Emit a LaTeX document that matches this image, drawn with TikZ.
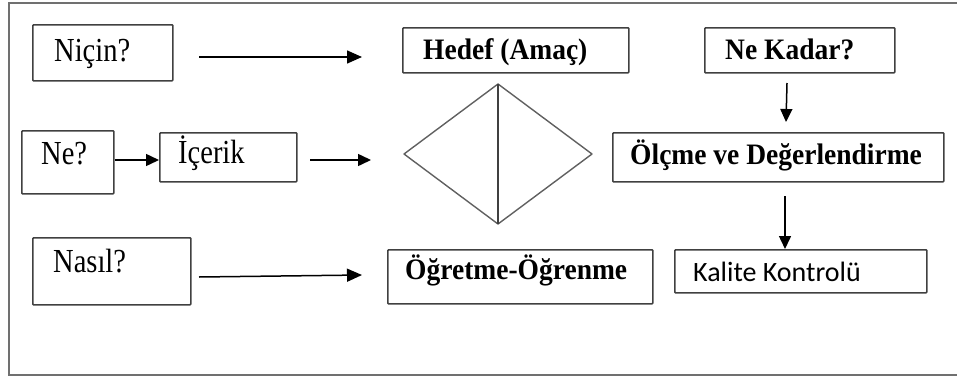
\documentclass[tikz,border=0pt]{standalone}
\usepackage{fontspec}
\usepackage{graphicx}
\setmainfont{Liberation Serif}
\newfontfamily\calib{Carlito}
\usetikzlibrary{arrows.meta}
\definecolor{boxc}{HTML}{404040}
\definecolor{framec}{HTML}{707070}
\definecolor{diac}{HTML}{606060}
\newcommand{\tallq}[1]{\scalebox{1}[1.18]{#1}}
\newcommand{\tallb}[1]{\scalebox{1}[1.08]{#1}}
\tikzset{
  box/.style={draw=boxc, line width=1.6pt, rounded corners=0.8pt, anchor=north west, inner sep=0pt},
  txt/.style={anchor=base west, inner sep=0pt, text=black, font=\fontsize{28.5}{32}\selectfont},
  btxt/.style={anchor=base west, inner sep=0pt, text=black, font=\fontsize{27.5}{31}\selectfont\bfseries},
  ctxt/.style={anchor=base west, inner sep=0pt, text=black, font=\fontsize{28}{32}\selectfont\calib},
  arr/.style={draw=black, line width=1.5pt, -{Triangle[length=15pt,width=13pt]}},
  sarr/.style={draw=black, line width=1.5pt, -{Triangle[length=13pt,width=12pt]}},
  dia/.style={draw=diac, line width=1.4pt, line join=round}
}
\begin{document}
\begin{tikzpicture}[x=1pt,y=-1pt]
\useasboundingbox (0,0) rectangle (957,380);
% outer frame (right side open, cut off)
\draw[framec, line width=1.6pt] (960,3) -- (9,3) -- (9,375) -- (960,375);

% boxes
\node[box, minimum width=140pt, minimum height=56pt] (nicin) at (32,24) {};
\node[txt] (tnicin) at (54,61) {\tallq{Niçin?}};
\node[box, minimum width=226pt, minimum height=45pt] (hedef) at (402,27) {};
\node[btxt] (thedef) at (423,59) {\tallb{Hedef (Amaç)}};
\node[box, minimum width=190pt, minimum height=45pt] (nekadar) at (704,27) {};
\node[btxt] (tnekadar) at (725,59) {\tallb{Ne Kadar?}};
\node[box, minimum width=92pt, minimum height=63pt] (ne) at (21,130) {};
\node[txt] (tne) at (41,164) {\tallq{Ne?}};
\node[box, minimum width=137pt, minimum height=49pt] (icerik) at (159,132) {};
\node[txt] (ticerik) at (178,163) {\tallq{İçerik}};
\node[box, minimum width=331pt, minimum height=49pt] (olcme) at (612,132) {};
\node[btxt] (tolcme) at (630,164) {\tallb{Ölçme ve Değerlendirme}};
\node[box, minimum width=158pt, minimum height=67pt] (nasil) at (32,237) {};
\node[txt] (tnasil) at (53,272) {\tallq{Nasıl?}};
\node[box, minimum width=265pt, minimum height=54pt] (ogretme) at (387,249) {};
\node[btxt] (togretme) at (405,279) {\tallb{Öğretme-Öğrenme}};
\node[box, minimum width=252pt, minimum height=43pt] (kalite) at (674,249) {};
\node[ctxt] (tkalite) at (693,281) {Kalite Kontrolü};

% diamond
\coordinate (dl) at (404,154);
\coordinate (dt) at (498,84);
\coordinate (dr) at (592,154);
\coordinate (db) at (498,224);
\draw[dia] (dl) -- (dt) -- (dr) -- (db) -- cycle;
\draw[dia, draw=boxc, line width=1.6pt] (dt) -- (db);

% arrow end points
\coordinate (a1s) at (199,57);
\coordinate (a1e) at (362,57);
\coordinate (a3s) at (310,160);
\coordinate (a3e) at (371,160);
\coordinate (a4s) at (199,277);
\coordinate (a4e) at (362,275);
\coordinate (a5s) at (787,83);
\coordinate (a5e) at (786,122);
\coordinate (a6s) at (785,196);

\draw[arr] (a1s) -- (a1e);
\draw[sarr] (ne.east |- 0,160) -- (icerik.west |- 0,160);
\draw[sarr] (a3s) -- (a3e);
\draw[arr] (a4s) -- (a4e);
\draw[sarr] (a5s) -- (a5e);
\draw[sarr] (a6s) -- (kalite.north -| a6s);
\end{tikzpicture}
\end{document}
